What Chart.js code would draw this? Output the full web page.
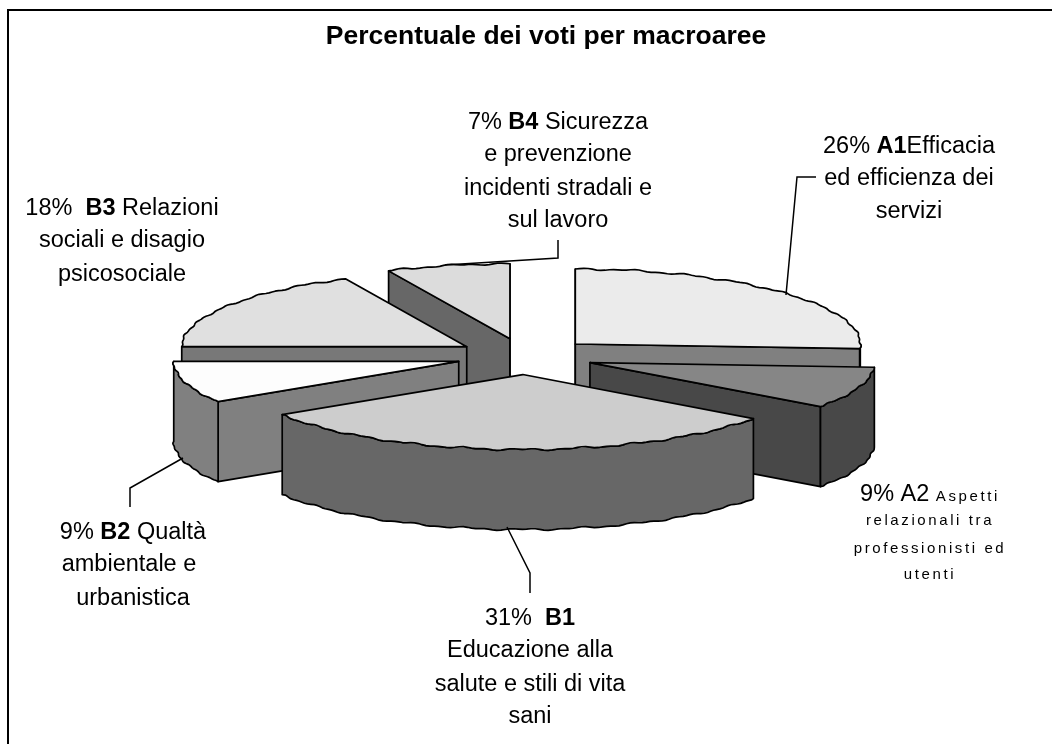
<!DOCTYPE html>
<html lang="it">
<head>
<meta charset="utf-8">
<title>Percentuale dei voti per macroaree</title>
<script src="https://cdn.jsdelivr.net/npm/chart.js@4"></script>
<style>
    html, body { margin: 0; padding: 0; background: #fff; }
    canvas { display: block; }
</style>
</head>
<body>
<canvas id="myChart" width="1052" height="744"></canvas>
<script>
const categories = ['A1', 'A2', 'B1', 'B2', 'B3', 'B4'];
const percentuali = [26, 9, 31, 9, 18, 7];
const topColors = ['#ebebeb', '#868686', '#cdcdcd', '#fdfdfd', '#e0e0e0', '#dcdcdc'];
const sideColors = ['#808080', '#484848', '#676767', '#808080', '#787878', '#676767'];

// testo delle etichette: '*' = grassetto, '~' = piccolo con spaziatura
const labelTexts = [
    [['26% ', '*A1', 'Efficacia'], ['ed efficienza dei'], ['servizi']],
    [['9% A2 ', '~Aspetti'], ['~relazionali tra'], ['~professionisti ed'], ['~utenti']],
    [['31%  ', '*B1'], ['Educazione alla'], ['salute e stili di vita'], ['sani']],
    [['9% ', '*B2', ' Qualtà'], ['ambientale e'], ['urbanistica']],
    [['18%  ', '*B3', ' Relazioni'], ['sociali e disagio'], ['psicosociale']],
    [['7% ', '*B4', ' Sicurezza'], ['e prevenzione'], ['incidenti stradali e'], ['sul lavoro']]
];

// posizioni: x centro riga, baseline di ogni riga
const labelPlaces = [
    { x: [909, 909, 909], y: [153, 185, 218] },
    { x: [930, 930, 930, 930], y: [501, 525, 553, 579] },
    { x: [530, 530, 530, 530], y: [625, 657, 691, 723] },
    { x: [133, 129, 133], y: [539, 571, 605] },
    { x: [122, 122, 122], y: [215, 247, 281] },
    { x: [558, 558, 558, 558], y: [129, 161, 195, 227] }
];

const leaderLines = [
    [[786, 295], [797, 177], [816, 177]],
    [[445, 265], [558, 258], [558, 240]],
    [[183, 458], [130, 488], [130, 507]],
    [[507, 527], [530, 573], [530, 593]]
];

const SQUASH = 0.263;   // schiacciamento della torta
const DEPTH = 80;       // spessore
const EXPLODE = 69;     // distanza delle fette dal centro
const SHIFT_X = -21;    // la torta non e centrata sotto il titolo
const drawOrder = [5, 0, 4, 1, 3, 2];

function wave(a) {
    return 0.7 * Math.sin(a * 31) + 0.5 * Math.sin(a * 73);
}

function pt(arc, mid, r, a) {
    return [
        arc.x + SHIFT_X + EXPLODE * Math.cos(mid) + r * Math.cos(a),
        arc.y + SQUASH * (EXPLODE * Math.sin(mid) + r * Math.sin(a))
    ];
}

function rimPoints(arc, mid, r, from, to) {
    const pts = [];
    const n = Math.max(2, Math.ceil((to - from) / 0.015));
    for (let i = 0; i <= n; i++) {
        const a = from + (to - from) * i / n;
        const p = pt(arc, mid, r, a);
        const w = (i === 0 || i === n) ? 0 : wave(a);
        pts.push([p[0] + w * Math.cos(a), p[1] + w * Math.sin(a)]);
    }
    return pts;
}

function poly(ctx, pts, fill) {
    ctx.beginPath();
    pts.forEach((p, i) => i === 0 ? ctx.moveTo(p[0], p[1]) : ctx.lineTo(p[0], p[1]));
    ctx.closePath();
    ctx.fillStyle = fill;
    ctx.fill();
    ctx.stroke();
}

const pie3d = {
    id: 'pie3d',
    beforeDatasetsDraw(chart) {
        const ctx = chart.ctx;
        const arcs = chart.getDatasetMeta(0).data;
        drawOrder.forEach(i => {
            const arc = arcs[i].getProps(['x', 'y', 'startAngle', 'endAngle', 'outerRadius']);
            const s = arc.startAngle, e = arc.endAngle, r = arc.outerRadius;
            const mid = (s + e) / 2;
            const v = pt(arc, mid, 0, 0);
            const down = p => [p[0], p[1] + DEPTH];

            ctx.save();
            ctx.lineWidth = 1.7;
            ctx.lineJoin = 'round';
            ctx.strokeStyle = '#000';

            // pareti radiali rivolte verso chi guarda
            if (-Math.cos(s) > -1e-6) {
                const t = pt(arc, mid, r, s);
                poly(ctx, [v, t, down(t), down(v)], sideColors[i]);
            }
            if (Math.cos(e) > -1e-6) {
                const t = pt(arc, mid, r, e);
                poly(ctx, [v, t, down(t), down(v)], sideColors[i]);
            }
            // parete esterna, solo la parte davanti
            const from = Math.max(s, 0), to = Math.min(e, Math.PI);
            if (to > from) {
                const upper = rimPoints(arc, mid, r, from, to);
                const lower = rimPoints(arc, mid, r, from, to).map(down).reverse();
                poly(ctx, upper.concat(lower), sideColors[i]);
            }

            // faccia superiore: la disegna l'elemento arc di Chart.js
            ctx.save();
            ctx.translate(arc.x + SHIFT_X, arc.y);
            ctx.scale(1, SQUASH);
            ctx.translate(-arc.x, -arc.y);
            ctx.translate(EXPLODE * Math.cos(mid), EXPLODE * Math.sin(mid));
            arcs[i].draw(ctx);
            ctx.restore();

            poly(ctx, [v].concat(rimPoints(arc, mid, r, s, e)), topColors[i]);
            ctx.restore();
        });
        return false;
    },
    afterDraw(chart) {
        const ctx = chart.ctx;
        ctx.save();

        // cornice: solo sopra e a sinistra
        ctx.strokeStyle = '#000';
        ctx.lineWidth = 2;
        ctx.beginPath();
        ctx.moveTo(8, 744);
        ctx.lineTo(8, 10);
        ctx.lineTo(1052, 10);
        ctx.stroke();

        // linee di richiamo
        ctx.lineWidth = 1.5;
        leaderLines.forEach(line => {
            ctx.beginPath();
            line.forEach((p, i) => i === 0 ? ctx.moveTo(p[0], p[1]) : ctx.lineTo(p[0], p[1]));
            ctx.stroke();
        });

        // etichette
        ctx.fillStyle = '#000';
        ctx.textBaseline = 'alphabetic';
        ctx.textAlign = 'left';
        const setRun = run => {
            const bold = run[0] === '*', small = run[0] === '~';
            ctx.font = (bold ? 'bold ' : '') + (small ? 15 : 23.5) + 'px "Liberation Sans", Arial, sans-serif';
            ctx.letterSpacing = small ? '2.6px' : '0px';
            return (bold || small) ? run.slice(1) : run;
        };
        labelTexts.forEach((lines, l) => {
            lines.forEach((runs, n) => {
                let width = 0;
                runs.forEach(run => { const t = setRun(run); width += ctx.measureText(t).width; });
                let x = labelPlaces[l].x[n] - width / 2;
                runs.forEach(run => {
                    const t = setRun(run);
                    ctx.fillText(t, x, labelPlaces[l].y[n]);
                    x += ctx.measureText(t).width;
                });
            });
        });
        ctx.restore();
    }
};

new Chart(document.getElementById('myChart').getContext('2d'), {
    type: 'pie',
    data: {
        labels: categories,
        datasets: [{
            data: percentuali,
            backgroundColor: topColors,
            borderWidth: 0
        }]
    },
    options: {
        responsive: false,
        animation: false,
        radius: 285,
        layout: { padding: { left: 40, right: 0, bottom: 91 } },
        plugins: {
            legend: { display: false },
            tooltip: { enabled: false },
            title: {
                display: true,
                text: 'Percentuale dei voti per macroaree',
                color: '#000',
                font: { family: '"Liberation Sans", Arial, sans-serif', size: 26.5, weight: 'bold' },
                padding: { top: 21, bottom: 7 }
            }
        }
    },
    plugins: [pie3d]
});
</script>
</body>
</html>
